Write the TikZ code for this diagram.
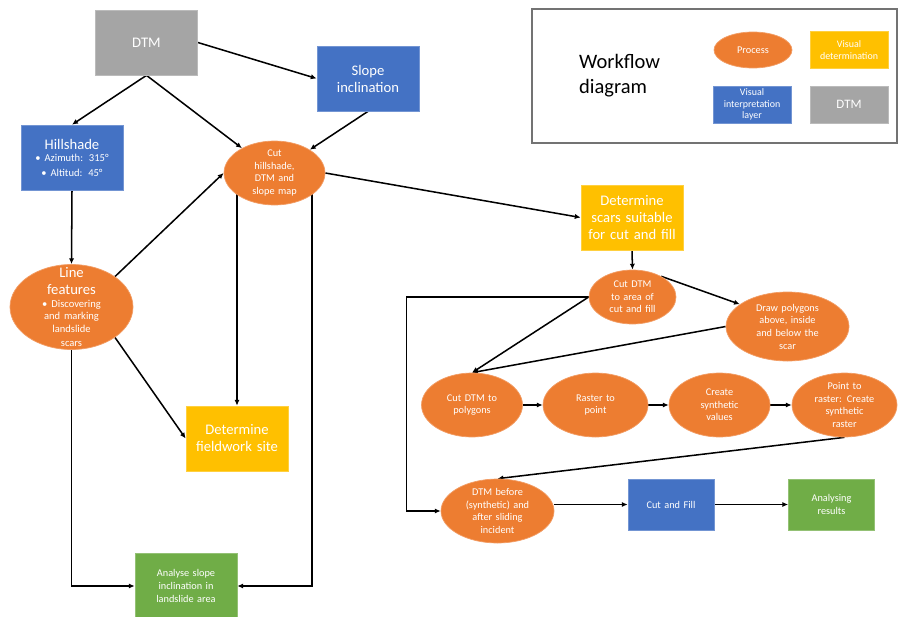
\documentclass[tikz,border=0pt]{standalone}
\usepackage{fontspec}
\setmainfont{Carlito}
\usetikzlibrary{arrows.meta,calc,shapes.geometric,backgrounds}
\definecolor{procor}{HTML}{ED7D31}
\definecolor{visblue}{HTML}{4472C4}
\definecolor{detyel}{HTML}{FFC000}
\definecolor{dtmgray}{HTML}{A5A5A5}
\definecolor{resgreen}{HTML}{70AD47}
\newcommand\txtbig{\fontsize{12.5}{14.5}\selectfont}
\newcommand\txtmid{\fontsize{9}{11}\selectfont}
\newcommand\txtsm{\fontsize{8.8}{10.8}\selectfont}
\tikzset{
  rbox/.style    ={rectangle, inner sep=2pt, align=center, text=white, text width=2.8cm,
                   minimum width=3.06cm, minimum height=1.95cm, line width=0.6pt},
  sbox/.style    ={rbox, text width=2.3cm, minimum width=2.58cm, minimum height=1.53cm},
  visbox/.style  ={fill=visblue, draw=visblue!75!white},
  detbox/.style  ={fill=detyel, draw=detyel!75!white},
  dtmbox/.style  ={fill=dtmgray, draw=dtmgray!75!white},
  resbox/.style  ={fill=resgreen, draw=resgreen!75!white},
  proc/.style    ={ellipse, inner xsep=-30pt, inner ysep=-20pt, align=center, text=white,
                   text width=2.4cm, fill=procor, draw=procor!75!white, line width=0.6pt},
  lgbox/.style   ={rbox, text width=2.1cm, inner ysep=0pt, minimum width=2.34cm, minimum height=1.11cm},
  arr/.style     ={draw=black, line width=1.3pt, -{Latex[length=5pt,width=4.5pt]}},
}

\begin{document}
\begin{tikzpicture}[x=0.03cm,y=-0.03cm]
  \useasboundingbox (0,0) rectangle (899,616);
  \node[rbox,dtmbox,font=\txtbig] (dtm) at (146.5,42.5) {DTM};
  \node[rbox,visbox,font=\txtbig] (slope) at (368,78.5) {Slope\\inclination};
  \node[rbox,visbox] (hill) at (72,157.5) {\txtbig Hillshade\par\txtmid • Azimuth: 315°\\• Altitud: 45°};
  \node[proc,font=\txtsm,minimum width=3.03cm,minimum height=1.92cm] (cut) at (274.5,173) {Cut\\hillshade,\\DTM and\\slope map};
  \node[proc,minimum width=3.69cm,minimum height=2.55cm] (line) at (71.5,307) {\txtbig Line\\features\par\txtmid • Discovering\\and marking\\landslide\\scars};
  \node[rbox,detbox,font=\txtbig] (field) at (237,438.5) {Determine\\fieldwork site};
  \node[rbox,resbox,font=\txtsm] (ana) at (186,586) {Analyse slope\\inclination in\\landslide area};
  \node[rbox,detbox,font=\txtbig] (scars) at (632,217.5) {Determine\\scars suitable\\for cut and fill};
  \node[proc,font=\txtsm,minimum width=2.61cm,minimum height=1.62cm] (cutarea) at (632.5,297) {Cut DTM\\to area of\\cut and fill};
  \node[proc,font=\txtsm,minimum width=3.69cm,minimum height=2.07cm] (drawpoly) at (787.5,326.5) {Draw polygons\\above, inside\\and below the\\scar};
  \node[proc,font=\txtsm,minimum width=3.03cm,minimum height=1.92cm] (cutpoly) at (472,405) {Cut DTM to\\polygons};
  \node[proc,font=\txtsm,minimum width=3.15cm,minimum height=1.92cm] (raster) at (595.5,405) {Raster to\\point};
  \node[proc,font=\txtsm,minimum width=3.03cm,minimum height=1.92cm] (synth) at (719.5,405) {Create\\synthetic\\values};
  \node[proc,font=\txtsm,minimum width=3.15cm,minimum height=1.92cm] (ptraster) at (844.5,405) {Point to\\raster: Create\\synthetic\\raster};
  \node[proc,font=\txtsm,minimum width=3.39cm,minimum height=1.92cm] (before) at (497.5,511) {DTM before\\(synthetic) and\\after sliding\\incident};
  \node[sbox,visbox,font=\txtsm] (cutfill) at (671,504.5) {Cut and Fill};
  \node[sbox,resbox,font=\txtsm] (results) at (831.5,504.5) {Analysing\\results};
  \node[draw=black!55, line width=1pt, minimum width=10.95cm, minimum height=4.02cm] (legend) at (714.5,76) {};
  \node[anchor=west, align=left, font=\fontsize{17.5}{21.3}\selectfont] (lgtitle) at (575,76) {Workflow\\diagram};
  \node[proc,font=\txtsm,minimum width=2.34cm,minimum height=1.08cm] (lgproc) at (753,50) {Process};
  \node[lgbox,detbox,font=\fontsize{8.5}{10}\selectfont] (lgdet) at (849,50) {Visual\\determination};
  \node[lgbox,visbox,font=\fontsize{8.5}{10}\selectfont] (lgvis) at (752,104.5) {Visual\\interpretation\\layer};
  \node[lgbox,dtmbox,font=\fontsize{11}{13}\selectfont] (lgdtm) at (849,104.5) {DTM};
  \begin{scope}[on background layer]
    \draw[arr] (dtm.east) -- (slope.west);
    \draw[arr] (dtm.south) -- (hill.north);
    \draw[arr] (dtm.south) -- (cut);
    \draw[arr] (slope.south) -- (cut);
    \draw[arr] (hill.south) -- (line.north);
    \draw[arr] (line.35) -- (cut.west);
    \draw[arr] (line.-35) -- (field.west);
    \draw[arr] (field.north |- cut.center) -- (field.north);
    \draw[arr] ($(cut.center)+(37.5,0)$) |- (ana.east);
    \draw[arr] (line.south) |- (ana.west);
    \draw[arr] (cut.east) -- (scars.west);
    \draw[arr] (scars.south) -- (cutarea.north);
    \draw[arr] (cutarea.36) -- (drawpoly.155);
    \draw[arr] (cutarea.west) -- (cutpoly.north);
    \draw[arr] (drawpoly.west) -- (cutpoly.north);
    \draw[arr] (cutarea.west) -| ($(before.west)+(-34,0)$) -- (before.west);
    \draw[arr] (cutpoly.east) -- (raster.west);
    \draw[arr] (raster.east) -- (synth.west);
    \draw[arr] (synth.east) -- (ptraster.west);
    \draw[arr] (ptraster.south) -- (before.north);
    \draw[arr] (cutfill.west -| before.east) -- (cutfill.west);
    \draw[arr] (cutfill.east) -- (results.west);
  \end{scope}
\end{tikzpicture}
\end{document}
